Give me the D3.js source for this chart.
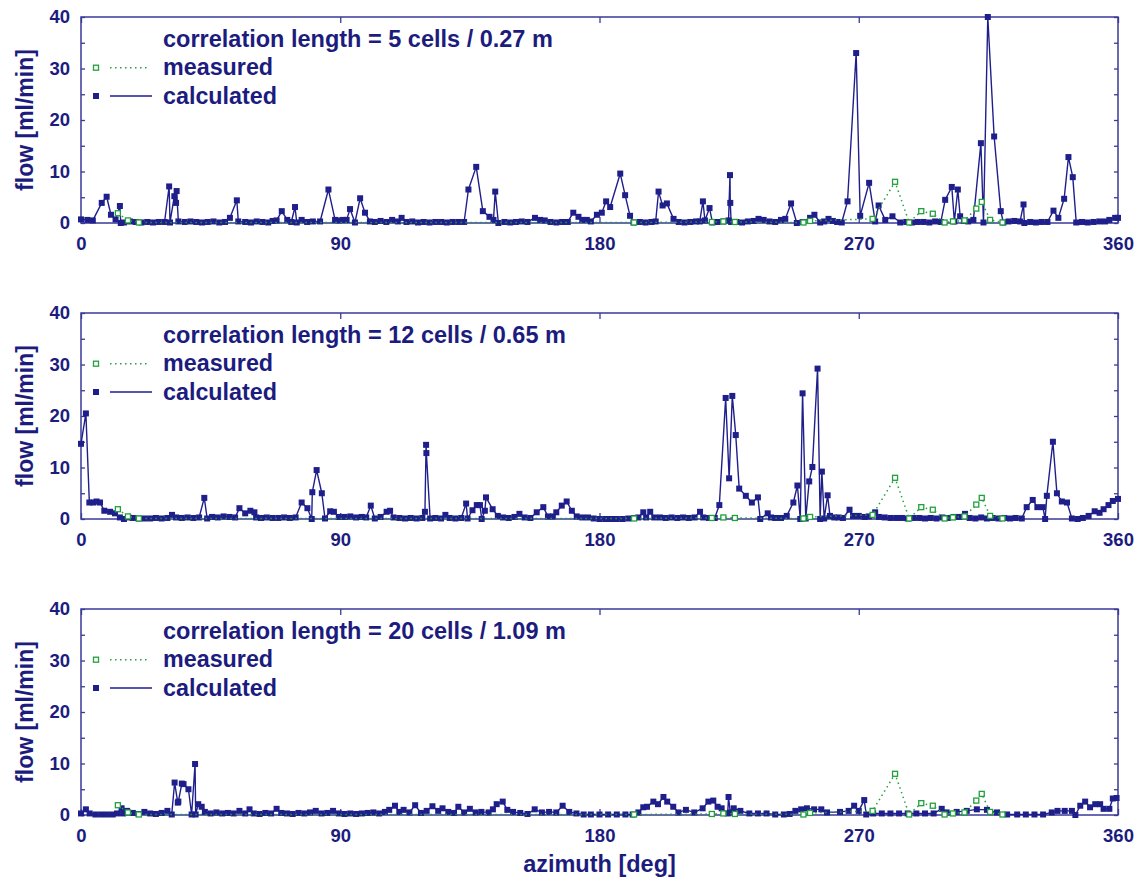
<!DOCTYPE html>
<html><head><meta charset="utf-8">
<script src="https://cdn.jsdelivr.net/npm/d3@7"></script>
<style>
body{margin:0;background:#fff}
text{font-family:"Liberation Sans",Arial,Helvetica,sans-serif;font-weight:bold;fill:#1c1c7e}
</style>
</head><body>
<svg id="chart" width="1140" height="877"></svg>
<script>
// ---------- data ----------
const panelTitles = ["correlation length = 5 cells / 0.27 m","correlation length = 12 cells / 0.65 m","correlation length = 20 cells / 1.09 m"];
const xTickValues = [0,90,180,270,360];
const yTickValues = [0,5,10,15,20,25,30,35,40];
const yTickLabels = ["0","","10","","20","","30","","40"];
const legendLabels = ["measured","calculated"];
const xLabel = "azimuth [deg]";
const yLabel = "flow [ml/min]";

// measured flow (same in all panels): [azimuth, flow]
const measured = [[12.8,1.9],[16.3,0.5],[20.1,0.1],[192,0.1],[219,0.2],[223,0.3],[227,0.2],[250.8,0.1],[253.1,0.4],[274.8,0.8],[282.6,8.0],[287.5,0.1],[291.7,2.3],[295.7,1.8],[299.8,0.1],[302.7,0.3],[306.7,0.5],[310.8,2.8],[312.7,4.1],[315.6,0.6],[319.9,0.1]];

const calc5 = [[0,0.7],[2.2,0.6],[4.1,0.5],[7.2,3.9],[8.9,5.1],[10.4,1.6],[12,0.7],[13.5,3.3],[13.8,0],[14.9,0.1],[17,0.3],[19,0.2],[21,0.1],[23,0.2],[25,0.1],[27,0.2],[29,0.2],[30.6,7.1],[30.9,0.1],[32.4,5.2],[33,3.9],[33.2,6.2],[33.8,0.3],[36,0.2],[38,0.3],[40,0.2],[42,0.1],[44,0.2],[46,0.3],[48,0.1],[50,0.2],[51.7,1.0],[54.1,4.4],[54.6,0.3],[57,0.2],[59,0.1],[61,0.3],[63,0.2],[65,0.1],[66.5,0.4],[67.9,0.5],[69.7,2.3],[71.6,0.6],[73,0.2],[74.3,3.1],[74.9,0.1],[76.6,0.6],[78.5,0.2],[80.5,0.3],[83,0.3],[85.9,6.5],[88.2,0.6],[89.5,0.5],[91,0.6],[92.2,0.6],[93.4,2.7],[95.1,0.1],[96.9,4.8],[98.6,2.0],[100.3,0.3],[102,0.2],[104,0.4],[106,0.2],[108,0.6],[110,0.3],[111.3,1.0],[113,0.2],[115,0.3],[117,0.1],[119,0.2],[121,0.1],[123,0.2],[125,0.2],[127,0.1],[129,0.2],[131,0.2],[133,0.2],[134.5,6.5],[137.2,10.9],[139.5,2.3],[141.8,1.2],[143.2,0.6],[143.8,6.1],[144.9,0],[147,0.2],[149,0.1],[151,0.2],[153,0.3],[155,0.2],[157.6,1.0],[159.4,0.6],[161,0.5],[163,0.2],[165,0.1],[167,0.2],[169,0.2],[170.9,2.0],[172.7,1.2],[174,0.6],[175.6,0.6],[177,0.3],[179.1,1.6],[180.8,2.0],[182.3,4.2],[183.7,3.1],[187.2,9.6],[188.9,5.4],[190.6,1.4],[191.8,0.1],[194,0.2],[196,0.1],[198,0.2],[199.5,0.3],[200.5,6.1],[201.9,3.4],[203.4,3.8],[205.7,0.8],[207.5,0.2],[209.5,0.1],[211.5,0.2],[213.5,0.3],[214.8,0.3],[215.9,4.2],[216.6,0.5],[218.2,2.9],[219.2,0.1],[221,0.2],[223,0.3],[224.8,0.5],[225.3,9.3],[225.4,3.9],[225.7,0.2],[227.5,0.2],[229.5,0.1],[231.5,0.3],[233.5,0.4],[235.2,0.8],[237,0.6],[239,0.3],[241,0.2],[243,0.6],[244.5,0.8],[246.5,3.8],[248.5,0],[250.5,0.2],[253.1,1.0],[254.6,1.6],[256.6,0.1],[258,0.3],[259.5,0.8],[261,0.4],[262.5,0.2],[264.1,0.1],[266.1,4.2],[269.1,33.0],[270.5,1.4],[273.6,7.8],[275.7,0.3],[276.9,3.4],[279.2,0.6],[281.7,1.3],[284.4,0.1],[286.5,0.2],[288.5,0.1],[290.5,0.2],[292.5,0.2],[294.5,0.1],[296.5,0.3],[298.5,0.2],[300,4.5],[302.3,7.0],[303.2,0.3],[304.4,6.5],[305.2,1.3],[306.5,0.4],[308,0.3],[309.8,0.6],[312.4,15.5],[313.3,0.1],[314.8,40],[317,16.8],[319.3,2.3],[320.2,0.1],[322,0.3],[324,0.4],[326,0.3],[327.2,3.6],[327.5,0],[329.5,0.2],[331.5,0.1],[333.5,0.2],[335.5,0.2],[337.6,2.4],[339.3,1.0],[341.3,4.7],[342.8,12.8],[344.3,8.9],[345.5,0.1],[347.5,0.2],[349.5,0.1],[351.5,0.2],[353.5,0.3],[355.5,0.3],[357,0.6],[359,1.0],[360,1.0]];

const calc12 = [[0,14.6],[1.7,20.5],[2.9,3.2],[4.3,3.2],[5.4,3.4],[6.6,3.2],[8.1,1.6],[10.1,1.4],[11.8,1.1],[13.5,0.3],[14.9,0],[16.4,0.3],[18,0.2],[20,0.1],[22,0.1],[24,0.1],[26,0.2],[28,0.1],[30,0.2],[31.6,0.8],[33,0.3],[35,0.2],[37,0.3],[39,0.2],[41,0.3],[42.8,4.1],[43.8,0.1],[45.5,0.4],[47.5,0.3],[49.5,0.5],[51.5,0.4],[53.5,0.3],[55,2.1],[57,1.1],[58.8,1.6],[60.2,1.3],[60.8,0.3],[62.5,0.2],[64.5,0.3],[66.5,0.2],[68.5,0.2],[70.5,0.3],[72.5,0.2],[74.5,0.3],[76.6,3.2],[78.6,2.1],[80.1,0],[80.3,5.2],[81.8,9.5],[83.6,5.0],[84.7,0.1],[86.5,1.5],[87.8,1.4],[89.5,0.4],[91.5,0.4],[93.5,0.5],[95.5,0.3],[97.5,0.4],[99,0.3],[100.6,2.6],[102,0.1],[104,0.4],[106.1,1.4],[107.3,1.6],[108.5,0.3],[110.5,0.2],[112.5,0.1],[114.5,0.2],[116.5,0.1],[118.5,0.2],[119.4,1.4],[119.8,14.4],[119.9,12.8],[121.2,0.1],[123,0.2],[125,0.1],[126.5,0.8],[128,0.2],[130,0.1],[132,0.2],[133.7,3.0],[134.2,0.1],[135.9,1.7],[137.4,2.7],[138.5,2.7],[139.1,0],[140.2,1.6],[140.6,4.2],[142.9,1.9],[144.7,0.6],[146.5,0.3],[148.5,0.2],[150.5,0.4],[152.2,1.0],[154,0.3],[156,0.2],[158.2,1.3],[160.5,2.3],[162.1,0.5],[163.8,0.5],[165,1.3],[166.9,2.6],[168.6,3.4],[170.4,1.6],[172.1,0.5],[174,0.3],[176,0.3],[178,0.1],[180,0],[182,0],[184,0],[186,0],[188,0],[190,0.1],[192,0.2],[193.5,0.3],[195.2,1.3],[196.2,0.3],[197.6,1.4],[199,0.3],[201,0.3],[203,0.2],[205,0.3],[207,0.2],[209,0.3],[211,0.2],[213,0.3],[214.9,1.4],[216,0.3],[218,0.2],[220,0.2],[221.6,2.7],[223.8,23.5],[225,7.9],[226.1,23.9],[227.3,16.3],[228.5,5.9],[230.8,4.5],[232.9,3.2],[235,4.2],[235.8,0],[238.4,1.1],[239.5,0.3],[241,0.2],[243,0.2],[245,0.6],[247.3,3.2],[248.7,6.5],[249.7,0],[250.5,24.4],[251.6,0.1],[252.8,7.3],[253.9,10.1],[255.7,29.2],[256.6,0],[257.2,9.2],[258,0.1],[259.2,4.6],[260,0.6],[261.5,0.3],[263,0.3],[264.5,0.2],[266.8,1.8],[268,0.6],[270,0.6],[272,0.4],[273.5,0.5],[275.7,1.3],[277,0.4],[279,0.3],[281,0.2],[283,0.2],[285,0.2],[287,0.1],[289,0.2],[291,0.2],[293,0.1],[295,0.2],[297,0.1],[299,0.3],[301,0.2],[303,0.4],[305,0.4],[306.9,1.0],[308.5,0.2],[310.5,0.1],[312.5,0.3],[314.5,0.1],[316.5,0.2],[318.5,0.1],[320.5,0.2],[322.5,0.1],[324.5,0.2],[326.6,0.1],[328.3,2.3],[330.4,3.7],[332,2.3],[333.9,2.3],[334.7,0],[335.3,4.5],[337.4,15.0],[338.8,5.0],[340.5,3.4],[342.3,3.2],[344,0.1],[346,0],[347.8,0.2],[349.8,0.6],[351.9,1.5],[353.6,1.2],[355,1.9],[356.7,2.7],[358.2,3.5],[360,3.9]];

const calc20 = [[0,0.3],[1.7,1.1],[3,0.3],[5,0.1],[7,0.1],[9,0.1],[11,0.1],[12.5,0.3],[14.1,1.3],[14.6,0.3],[16,0.8],[18,0.4],[20,0.2],[22,0.6],[24,0.3],[26,0.2],[28,0.4],[30,0.8],[31.5,0.1],[32.5,6.3],[33.6,2.4],[33.8,2.6],[35,6.1],[35.6,6.0],[37.3,5.0],[38.4,0.1],[39.6,9.9],[39.8,0.1],[40.7,2.1],[41.9,1.6],[43,0.6],[45,0.3],[47,0.5],[49,0.3],[51,0.4],[53,0.3],[55,0.8],[57,0.3],[58.5,1.1],[60,0.3],[62,0.2],[64,0.4],[66,0.3],[67.9,1.2],[69.5,0.4],[71.5,0.3],[73.5,0.2],[75.5,0.4],[77.5,0.3],[79.5,0.5],[81.5,0.8],[83.5,0.3],[85.5,0.4],[87.5,0.8],[89.5,0.3],[91.5,0.2],[93.5,0.3],[95.5,0.2],[97.5,0.3],[99.5,0.4],[101.5,0.5],[103.5,0.3],[105.5,0.6],[107,1.0],[109,1.8],[110.5,0.6],[112,1.0],[114,0.5],[116,1.9],[118,0.4],[120,0.8],[122,1.7],[124,0.8],[125.5,1.3],[127.5,0.6],[129.5,0.4],[131,1.6],[133,0.5],[135,1.2],[137,0.5],[139,0.6],[141.5,0.5],[143,1.1],[144.3,2.1],[146.4,2.6],[148,1.0],[150,0.6],[152.5,0.4],[155,0.2],[157.5,1.1],[160,0.5],[162.5,0.6],[165,0.5],[167.2,1.8],[169.5,0.6],[172,0.3],[174.5,0.1],[177,0.1],[180,0.1],[183,0.1],[186,0.1],[189,0.1],[191.5,0.1],[193.5,0.5],[195.2,1.5],[196.5,1.6],[198.7,2.6],[200.3,2.1],[202.2,3.5],[203.5,2.6],[205.6,1.6],[207.4,0.5],[210,1.0],[212.9,0.5],[215.8,1.3],[217.8,2.6],[219.5,2.8],[221,1.6],[222.4,1.3],[224.5,0.3],[224.8,3.5],[225.4,0.5],[226.6,1.3],[228.9,0.8],[232,0.3],[235,0.3],[238,0.3],[241,0.1],[244,0.1],[246,0.2],[248,0.8],[250,1.1],[252,1.3],[254.5,1.1],[257,1.1],[259,0.5],[263.5,0.6],[266.5,0.8],[268.4,1.8],[270,0.8],[271.9,2.9],[272.6,0.1],[275,0.3],[278,0.3],[281,0.3],[284,0.3],[287,0.3],[290,0.3],[293,0.3],[296,0.3],[298.8,1.2],[300.5,0.5],[304,0.6],[307.5,0.8],[311,1.1],[314.5,1.0],[318,0.5],[321.5,0.1],[325,0.1],[328,0.1],[331,0.1],[334,0.1],[337,0.5],[339,0.8],[341.5,0.8],[344,0.8],[345.2,0],[346.9,1.8],[348.6,2.6],[350.3,1.5],[352.1,2.1],[353.8,2.1],[355,1.2],[357,1.2],[358.2,3.2],[359.5,3.3]];

const calculatedSeries = [calc5, calc12, calc20];

// ---------- layout ----------
const NAVY = "#1f1f8c", FRAME = "#3a3a99", GREEN = "#21a03c";
const left = 81, right = 1118, panelH = 206;
const panelTops = [17, 313, 609];

const svg = d3.select("#chart");
const x = d3.scaleLinear().domain([0,360]).range([left,right]);
const y = d3.scaleLinear().domain([0,40]).range([panelH,0]);
const line = d3.line().x(d => x(d[0])).y(d => y(d[1]));

panelTops.forEach((top, i) => {
  const g = svg.append("g").attr("transform", `translate(0,${top})`);

  // axes (inward ticks)
  const yl = g.append("g").attr("transform",`translate(${left},0)`)
    .call(d3.axisLeft(y).tickValues(yTickValues).tickSize(-4).tickPadding(11)
      .tickFormat((d,k) => yTickLabels[k]));
  const yr = g.append("g").attr("transform",`translate(${right},0)`)
    .call(d3.axisRight(y).tickValues(yTickValues).tickSize(-4).tickFormat(""));
  const xb = g.append("g").attr("transform",`translate(0,${panelH})`)
    .call(d3.axisBottom(x).tickValues(xTickValues).tickSize(-6).tickPadding(14));
  const xt = g.append("g")
    .call(d3.axisTop(x).tickValues(xTickValues).tickSize(-6).tickFormat(""));
  [yl,yr,xb,xt].forEach(a => {
    a.select(".domain").remove();
    a.selectAll("line").attr("stroke", FRAME).attr("stroke-width",1.3);
    a.selectAll("text").attr("font-size",18.5).attr("font-family","Liberation Sans, Arial, sans-serif")
      .attr("font-weight","bold").attr("fill","#1c1c7e");
  });

  // frame
  g.append("rect").attr("x",left).attr("y",0).attr("width",right-left).attr("height",panelH)
    .attr("fill","none").attr("stroke",FRAME).attr("stroke-width",1.5);

  // calculated
  const calc = calculatedSeries[i];
  g.append("path").datum(calc).attr("d",line).attr("fill","none")
    .attr("stroke",NAVY).attr("stroke-width",1.4).attr("stroke-linejoin","round");
  g.selectAll(".cm").data(calc).enter().append("rect")
    .attr("x",d=>x(d[0])-3).attr("y",d=>y(d[1])-3).attr("width",6).attr("height",6)
    .attr("fill",NAVY);

  // measured
  g.append("path").datum(measured).attr("d",line).attr("fill","none")
    .attr("stroke",GREEN).attr("stroke-width",1.5).attr("stroke-dasharray","1.5,3.5");
  g.selectAll(".mm").data(measured).enter().append("rect")
    .attr("x",d=>x(d[0])-2.5).attr("y",d=>y(d[1])-2.5).attr("width",5).attr("height",5)
    .attr("fill","#fff").attr("stroke",GREEN).attr("stroke-width",1.3);

  // legend
  g.append("text").attr("x",163).attr("y",30).attr("font-size",23.5).text(panelTitles[i]);
  g.append("rect").attr("x",93.5).attr("y",48.2).attr("width",5).attr("height",5)
    .attr("fill","#fff").attr("stroke",GREEN).attr("stroke-width",1.3);
  g.append("line").attr("x1",110).attr("x2",148).attr("y1",50.7).attr("y2",50.7)
    .attr("stroke",GREEN).attr("stroke-width",1.5).attr("stroke-dasharray","1.5,3.5");
  g.append("text").attr("x",163).attr("y",58).attr("font-size",23.3).text(legendLabels[0]);
  g.append("rect").attr("x",93).attr("y",76).attr("width",6).attr("height",6).attr("fill",NAVY);
  g.append("line").attr("x1",110).attr("x2",152).attr("y1",79).attr("y2",79)
    .attr("stroke",NAVY).attr("stroke-width",1.4);
  g.append("text").attr("x",163).attr("y",87).attr("font-size",23.3).text(legendLabels[1]);

  // y label
  g.append("text").attr("transform",`translate(33,${panelH/2}) rotate(-90)`)
    .attr("text-anchor","middle").attr("font-size",23).text(yLabel);
});

svg.append("text").attr("x",(left+right)/2).attr("y",872).attr("text-anchor","middle")
  .attr("font-size",23.5).text(xLabel);
</script>
</body></html>
